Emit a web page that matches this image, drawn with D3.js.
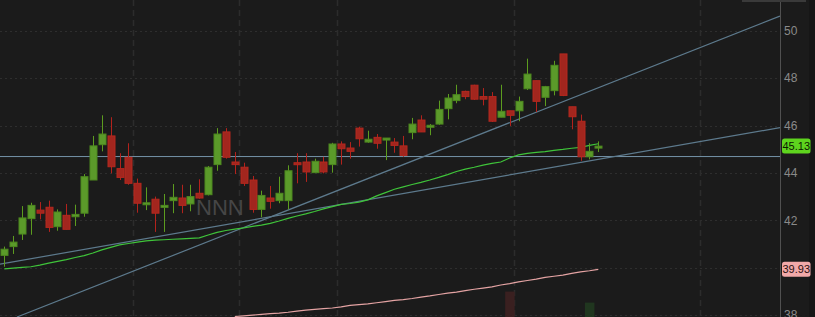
<!DOCTYPE html>
<html>
<head>
<meta charset="utf-8">
<script src="https://cdn.jsdelivr.net/npm/d3@7"></script>
<style>
  html, body { margin: 0; padding: 0; background: #1b1b1b; overflow: hidden; }
  svg { display: block; }
</style>
</head>
<body>
<div id="chart"></div>
<script>
// daily candles
var opens  = [40.52,40.89,41.42,42.07,42.43,42.55,41.73,42.21,42.15,42.30,43.70,45.19,45.56,44.18,44.66,43.56,42.66,42.89,42.55,42.83,42.94,42.69,43.14,43.08,44.35,45.73,44.46,44.24,43.70,42.46,42.94,42.83,42.83,44.43,44.46,44.01,44.46,44.35,45.22,45.05,45.89,45.30,45.50,45.39,45.30,45.14,45.70,46.23,45.95,46.06,46.71,47.05,47.44,47.70,47.22,47.22,46.35,46.62,46.62,47.55,47.89,47.19,47.47,49.02,46.79,46.18,44.68,45.08];
var highs  = [40.89,41.34,42.60,42.74,42.77,42.83,42.46,42.69,42.66,43.95,45.56,46.43,46.35,44.83,45.25,43.76,43.39,43.00,43.11,43.53,43.50,43.50,43.73,44.29,45.89,45.89,44.88,44.43,43.87,43.25,43.45,43.84,44.32,44.83,44.83,44.60,44.68,45.27,45.33,45.30,45.95,45.78,45.64,45.47,45.47,45.56,46.32,46.43,46.06,47.05,47.33,47.72,47.47,47.72,47.58,47.41,47.72,46.62,47.22,48.82,47.89,47.67,48.73,49.02,46.79,46.46,45.25,45.33];
var lows   = [40.04,40.58,41.17,41.39,42.04,41.51,41.56,41.62,41.76,42.15,43.70,44.91,43.98,43.70,43.50,42.32,42.43,41.51,41.51,42.30,42.30,42.38,42.91,43.05,44.09,44.60,43.95,43.45,42.32,42.13,42.49,42.72,42.46,43.56,43.62,44.01,43.98,44.01,44.35,44.60,45.11,45.27,45.02,44.54,44.85,44.68,45.42,45.73,45.59,46.03,46.26,46.94,47.11,47.08,46.85,46.15,46.35,45.98,46.18,47.50,46.57,46.82,47.27,47.24,45.84,44.51,44.57,44.88];
var closes = [40.78,41.08,42.10,42.63,42.30,41.70,42.35,41.62,42.25,43.84,45.14,45.64,44.26,43.81,43.56,42.72,42.74,42.30,42.63,42.97,42.63,43.00,42.94,44.24,45.64,44.66,44.35,43.56,42.46,43.05,42.80,43.14,44.09,44.39,44.04,44.49,44.04,45.22,45.02,44.91,45.44,45.42,45.25,45.47,45.16,44.74,46.06,45.73,46.01,46.68,47.16,47.30,47.22,47.11,47.11,46.18,46.60,46.43,47.02,48.17,47.02,47.64,48.54,47.27,46.37,44.68,44.91,45.13];

// moving averages
var smaFast = [39.95,39.98,40.01,40.04,40.11,40.19,40.27,40.34,40.43,40.51,40.62,40.75,40.86,40.96,41.02,41.08,41.13,41.16,41.18,41.20,41.22,41.24,41.26,41.38,41.49,41.57,41.63,41.68,41.74,41.80,41.87,41.97,42.08,42.18,42.27,42.37,42.48,42.58,42.67,42.71,42.77,42.86,43.03,43.17,43.31,43.41,43.51,43.60,43.70,43.81,43.93,44.06,44.16,44.24,44.33,44.40,44.46,44.63,44.76,44.82,44.87,44.90,44.95,44.99,45.04,45.08,45.16,45.23];
var smaSlowStart = 26;
var smaSlow = [37.94,37.97,38.00,38.03,38.06,38.08,38.12,38.17,38.21,38.24,38.27,38.30,38.35,38.41,38.44,38.47,38.52,38.57,38.62,38.65,38.70,38.76,38.81,38.87,38.93,38.97,39.03,39.09,39.14,39.19,39.27,39.33,39.40,39.46,39.52,39.59,39.64,39.69,39.76,39.82,39.87,39.93];

// volume (only the tallest bars reach into view)
var volIdx = [57, 66];
var volume = [2.42, 1.87];

// drawings
var trendA = [[1.43, 37.92], [87.49, 50.62]];
var trendB = [[-0.49, 40.15], [87.49, 45.91]];
var hLevel = 44.69;

var priceTicks = [38, 40, 42, 44, 46, 48, 50];
var dividers = [14.5, 26.5, 37.5, 57.5, 78.5];
var lastPrice = 45.13;
var slowLast = 39.93;

var width = 815, height = 317, plotRight = 780;

var svg = d3.select("#chart").append("svg")
    .attr("width", width)
    .attr("height", height);

svg.append("rect").attr("width", width).attr("height", height).attr("fill", "#1b1b1b");

var x = d3.scaleLinear().domain([0, 67]).range([4.3, 598.3]);
var y = d3.scaleLinear().domain([38, 50]).range([315.1, 30.7]);
var yVol = d3.scaleLinear().domain([0, 3]).range([340, 280]);

var plot = svg.append("g");
plot.append("clipPath").attr("id", "clip")
    .append("rect").attr("width", plotRight).attr("height", height);
plot.attr("clip-path", "url(#clip)");

// grid
plot.selectAll(".hgrid").data(priceTicks).enter().append("line")
    .attr("x1", 0).attr("x2", plotRight)
    .attr("y1", function (d) { return Math.round(y(d)) + 0.5; })
    .attr("y2", function (d) { return Math.round(y(d)) + 0.5; })
    .attr("stroke", "#2e2e2e").attr("stroke-dasharray", "2,3");

plot.selectAll(".vgrid").data(dividers).enter().append("line")
    .attr("x1", function (d) { return Math.round(x(d)) + 0.5; })
    .attr("x2", function (d) { return Math.round(x(d)) + 0.5; })
    .attr("y1", 0).attr("y2", height)
    .attr("stroke", "#2c2c2c").attr("stroke-width", 1.5).attr("stroke-dasharray", "6,4");

// volume
plot.selectAll(".vol").data(volIdx).enter().append("rect")
    .attr("x", function (d) { return x(d) - 4.5; })
    .attr("width", 9.5)
    .attr("y", function (d, i) { return yVol(volume[i]); })
    .attr("height", function (d, i) { return yVol(0) - yVol(volume[i]); })
    .attr("fill", function (d) { return closes[d] >= opens[d] ? "#20361f" : "#3a2020"; });

// watermark
plot.append("text")
    .attr("x", 196).attr("y", 215)
    .attr("font-family", "Liberation Sans, Arial, sans-serif")
    .attr("font-size", 22)
    .attr("fill", "#464646")
    .text("NNN");

// horizontal level and trend lines
plot.append("line")
    .attr("x1", 0).attr("x2", plotRight)
    .attr("y1", y(hLevel)).attr("y2", y(hLevel))
    .attr("stroke", "#7593a8").attr("stroke-width", 1);

[trendA, trendB].forEach(function (t) {
    plot.append("line")
        .attr("x1", x(t[0][0])).attr("y1", y(t[0][1]))
        .attr("x2", x(t[1][0])).attr("y2", y(t[1][1]))
        .attr("stroke", "#5d7a8d").attr("stroke-width", 1.2);
});

// moving averages
var line = d3.line()
    .x(function (d) { return x(d[0]); })
    .y(function (d) { return y(d[1]); });

plot.append("path")
    .datum(smaFast.map(function (v, i) { return [i, v]; }))
    .attr("d", line)
    .attr("fill", "none").attr("stroke", "#3fc43a").attr("stroke-width", 1.2);

plot.append("path")
    .datum(smaSlow.map(function (v, i) { return [i + smaSlowStart, v]; }))
    .attr("d", line)
    .attr("fill", "none").attr("stroke", "#e4a3a3").attr("stroke-width", 1.2);

// candles
var idx = d3.range(opens.length);
var up = function (i) { return closes[i] >= opens[i]; };

plot.selectAll(".wick").data(idx).enter().append("line")
    .attr("x1", function (i) { return Math.round(x(i)) + 0.5; })
    .attr("x2", function (i) { return Math.round(x(i)) + 0.5; })
    .attr("y1", function (i) { return y(highs[i]); })
    .attr("y2", function (i) { return y(lows[i]); })
    .attr("stroke", function (i) { return up(i) ? "#5c9c1f" : "#b3221c"; })
    .attr("stroke-width", 1);

plot.selectAll(".body").data(idx).enter().append("rect")
    .attr("x", function (i) { return Math.round(x(i)) - 3; })
    .attr("width", 7)
    .attr("y", function (i) { return y(Math.max(opens[i], closes[i])); })
    .attr("height", function (i) { return Math.max(2, Math.abs(y(opens[i]) - y(closes[i]))); })
    .attr("fill", function (i) { return up(i) ? "#5b9a2a" : "#a2261e"; })
    .attr("stroke", function (i) { return up(i) ? "#4d881f" : "#b6281f"; })
    .attr("stroke-width", 1);

// right axis
svg.append("rect").attr("x", 809).attr("y", 0).attr("width", 6).attr("height", height).attr("fill", "#161616");
svg.append("line")
    .attr("x1", plotRight + 0.5).attr("x2", plotRight + 0.5)
    .attr("y1", 0).attr("y2", height)
    .attr("stroke", "#505050");
svg.append("rect").attr("x", 742).attr("y", 0).attr("width", 64).attr("height", 2).attr("fill", "#3a3a3a");

var axis = d3.axisRight(y).tickValues(priceTicks.filter(function (d) { return Math.abs(d - slowLast) > 0.5; }))
    .tickSize(0).tickPadding(4).tickFormat(d3.format("d"));

var ag = svg.append("g")
    .attr("transform", "translate(" + plotRight + ",0)")
    .call(axis);
ag.select(".domain").remove();
ag.selectAll("text")
    .attr("fill", "#8a8a8a")
    .attr("font-family", "Liberation Sans, Arial, sans-serif")
    .attr("font-size", 12);

// price badges
function badge(v, bg, fg) {
    var g = svg.append("g").attr("transform", "translate(782," + y(v) + ")");
    g.append("rect").attr("x", 0).attr("y", -7.5).attr("width", 28.5).attr("height", 15).attr("rx", 2.5)
        .attr("fill", bg);
    g.append("text").attr("x", 14.25).attr("y", 0).attr("dy", "0.36em")
        .attr("text-anchor", "middle")
        .attr("font-family", "Liberation Sans, Arial, sans-serif")
        .attr("font-size", 11).attr("fill", fg)
        .text(v.toFixed(2));
}
badge(lastPrice, "#5ed41e", "#0b1a00");
badge(slowLast, "#f2a9a9", "#2a1010");
</script>
</body>
</html>
